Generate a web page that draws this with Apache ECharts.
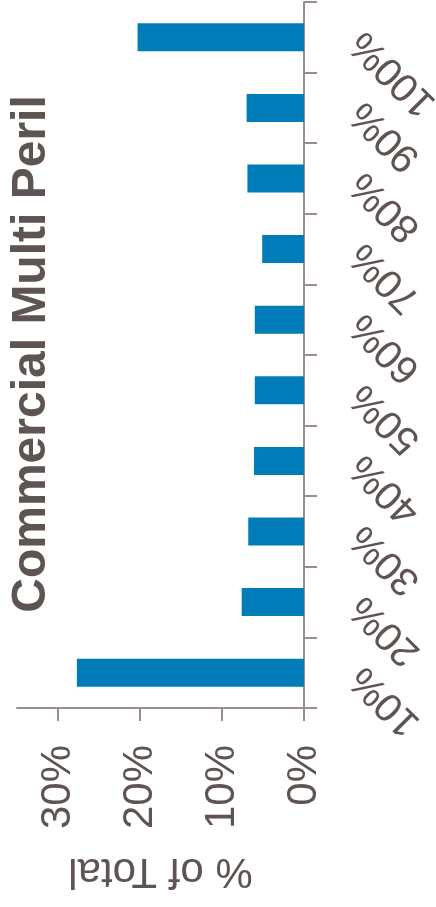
<!DOCTYPE html>
<html>
<head>
<meta charset="utf-8">
<script src="https://cdn.jsdelivr.net/npm/echarts@6/dist/echarts.min.js"></script>
<style>
  html, body { margin: 0; padding: 0; background: #ffffff; }
  #chart { width: 436px; height: 907px; }
</style>
</head>
<body>
<div id="chart"></div>
<script>
// Loss-ratio deciles and their share of the total (percent)
const deciles = ['10%', '20%', '30%', '40%', '50%', '60%', '70%', '80%', '90%', '100%'];
const shareOfTotal = [27.7, 7.6, 6.8, 6.1, 6.0, 6.0, 5.1, 6.9, 7.0, 20.3];
const valueTicks = [0, 10, 20, 30];
const chartTitle = 'Commercial Multi Peril';
const valueAxisName = '% of Total';

const textColor = '#5e5452';
const axisColor = '#9b8e8a';
const barColor = '#007db8';
const fontFamily = '"Liberation Sans", Arial, sans-serif';

const chart = echarts.init(document.getElementById('chart'), null, { renderer: 'canvas' });

chart.setOption({
  animation: false,
  backgroundColor: '#ffffff',
  grid: {
    left: 17,
    right: 132,
    top: 2,
    bottom: 199,
    containLabel: false,
    outerBoundsMode: 'none'
  },
  xAxis: {
    type: 'value',
    position: 'bottom',
    inverse: true,
    min: 0,
    max: 35,
    interval: 10,
    name: valueAxisName,
    nameLocation: 'middle',
    nameRotate: 180,
    nameGap: 142,
    nameMoveOverlap: false,
    nameTextStyle: { color: textColor, fontSize: 42, fontFamily: fontFamily },
    splitLine: { show: false },
    axisLine: { show: true, lineStyle: { color: axisColor, width: 2 } },
    axisTick: {
      show: true,
      length: 13,
      customValues: valueTicks,
      lineStyle: { color: axisColor, width: 2 }
    },
    axisLabel: {
      customValues: valueTicks,
      rotate: 90,
      margin: 37,
      color: textColor,
      fontSize: 42,
      fontFamily: fontFamily,
      formatter: v => v + '%'
    }
  },
  yAxis: {
    type: 'category',
    position: 'right',
    data: deciles,
    boundaryGap: true,
    splitLine: { show: false },
    axisLine: { show: true, lineStyle: { color: axisColor, width: 2 } },
    axisTick: {
      show: true,
      length: 13,
      interval: 0,
      lineStyle: { color: axisColor, width: 2 }
    },
    axisLabel: {
      interval: 0,
      rotate: 135,
      align: 'right',
      verticalAlign: 'middle',
      margin: 53,
      color: textColor,
      fontSize: 40,
      fontFamily: fontFamily,
      hideOverlap: false
    }
  },
  series: [{
    type: 'bar',
    data: shareOfTotal,
    barWidth: 28,
    itemStyle: { color: barColor },
    label: { show: false }
  }],
  graphic: [{
    type: 'text',
    x: 32,
    y: 354,
    rotation: Math.PI / 2,
    style: {
      text: chartTitle,
      fill: textColor,
      font: 'bold 48px ' + fontFamily,
      align: 'center',
      verticalAlign: 'middle'
    }
  }]
});
</script>
</body>
</html>
